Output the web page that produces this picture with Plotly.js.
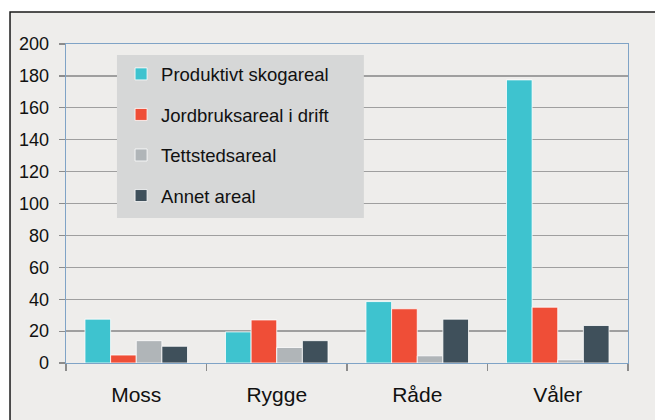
<!DOCTYPE html>
<html>
<head>
<meta charset="utf-8">
<script src="https://cdn.plot.ly/plotly-3.0.1.min.js"></script>
<style>html,body{margin:0;padding:0;background:#fff;}#chart{width:655px;height:420px;}</style>
</head>
<body>
<div id="chart"></div>
<script>
const categories = ["Moss", "Rygge", "Råde", "Våler"];
const seriesNames = ["Produktivt skogareal", "Jordbruksareal i drift", "Tettstedsareal", "Annet areal"];
const skog = [27.5, 19.5, 38.5, 177.5];
const jordbruk = [5, 27, 34, 35];
const tettsted = [14, 9.7, 4.5, 2];
const annet = [10.5, 14, 27.5, 23.5];
const colors = ["#3ec3cf", "#ef4e37", "#b0b5b8", "#3f505b"];
const yTicks = [0, 20, 40, 60, 80, 100, 120, 140, 160, 180, 200];

const FONT = "Liberation Sans, Arial, sans-serif";
const values = [skog, jordbruk, tettsted, annet];
const traces = values.map((v, i) => ({
  type: "bar",
  name: seriesNames[i],
  x: categories,
  y: v,
  legendgroup: "g" + i,
  marker: {color: colors[i], line: {color: "#ffffff", width: 0.8}},
  hoverinfo: "x+y+name"
}));

const layout = {
  width: 655, height: 420,
  margin: {l: 66, r: 27, t: 44, b: 57},
  paper_bgcolor: "#ffffff",
  plot_bgcolor: "#ffffff",
  barmode: "group",
  bargap: 0.27,
  bargroupgap: 0,
  font: {family: FONT, color: "#111111"},
  showlegend: true,
  legend: {
    x: 0.098, xanchor: "left",
    y: 0.9644, yanchor: "top",
    bgcolor: "rgba(0,0,0,0)",
    font: {family: FONT, size: 18.5, color: "#111111"},
    traceorder: "grouped",
    tracegroupgap: 13.5
  },
  xaxis: {
    type: "category",
    tickson: "boundaries",
    ticks: "outside", ticklen: 7, tickcolor: "#8c8c8c", tickwidth: 1.2,
    tickfont: {family: FONT, size: 21, color: "#111111"},
    ticklabelstandoff: 12,
    showline: true, linecolor: "#7fa3c6", linewidth: 1.3, mirror: true,
    showgrid: false, zeroline: false,
    fixedrange: true
  },
  yaxis: {
    range: [0, 200],
    tickvals: yTicks,
    ticks: "outside", ticklen: 6, tickcolor: "#8c8c8c", tickwidth: 1.2,
    tickfont: {family: FONT, size: 18, color: "#111111"},
    ticklabelstandoff: 6,
    showgrid: true, gridcolor: "#9f9f9f", gridwidth: 1.3,
    showline: true, linecolor: "#7fa3c6", linewidth: 1.3, mirror: true,
    zeroline: false,
    fixedrange: true
  },
  shapes: [
    {type: "rect", xref: "paper", yref: "paper", layer: "below",
     x0: -0.0996, x1: 1.1, y0: -0.25, y1: 1.1003,
     fillcolor: "#eeedeb", line: {color: "#1a1a1a", width: 1.5}},
    {type: "rect", xref: "paper", yref: "paper", layer: "above",
     x0: 0.0907, x1: 0.530, y0: 0.4545, y1: 0.9655,
     fillcolor: "#d6d7d7", line: {width: 0}}
  ]
};

Plotly.newPlot("chart", traces, layout, {displayModeBar: false, staticPlot: true});
</script>
</body>
</html>
